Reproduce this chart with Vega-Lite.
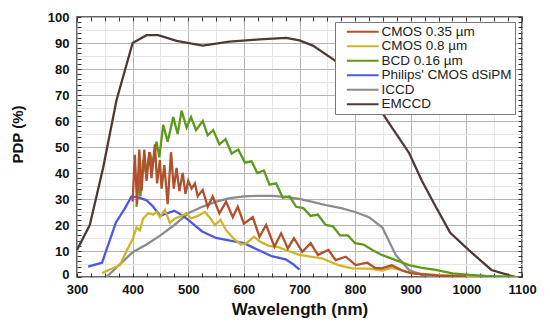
{
  "$schema": "https://vega.github.io/schema/vega-lite/v6.json",
  "width": 445,
  "height": 260,
  "autosize": {"type": "none"},
  "padding": {"left": 77, "top": 17, "right": 28, "bottom": 55},
  "background": "white",
  "config": {
    "font": "Liberation Sans",
    "view": {"stroke": "#333", "strokeWidth": 1.5},
    "axis": {"domain": false}
  },
  "datasets": {
    "pdp": [
      {"s":"EMCCD","wl":300,"v":10.4},{"s":"EMCCD","wl":323,"v":20},{"s":"EMCCD","wl":347,"v":42},{"s":"EMCCD","wl":371,"v":68},{"s":"EMCCD","wl":400,"v":90},{"s":"EMCCD","wl":425,"v":93},{"s":"EMCCD","wl":446,"v":93},{"s":"EMCCD","wl":479,"v":90.8},{"s":"EMCCD","wl":526,"v":89},{"s":"EMCCD","wl":574,"v":90.5},{"s":"EMCCD","wl":628,"v":91.4},{"s":"EMCCD","wl":676,"v":92},{"s":"EMCCD","wl":700,"v":91},{"s":"EMCCD","wl":724,"v":89},{"s":"EMCCD","wl":762,"v":83.5},{"s":"EMCCD","wl":800,"v":77},{"s":"EMCCD","wl":828,"v":70},{"s":"EMCCD","wl":860,"v":59.5},{"s":"EMCCD","wl":897,"v":47.7},{"s":"EMCCD","wl":920,"v":37},{"s":"EMCCD","wl":945,"v":27},{"s":"EMCCD","wl":971,"v":17},{"s":"EMCCD","wl":1004,"v":10.4},{"s":"EMCCD","wl":1045,"v":2.7},{"s":"EMCCD","wl":1088,"v":0},

      {"s":"ICCD","wl":353,"v":0},{"s":"ICCD","wl":375,"v":4.5},{"s":"ICCD","wl":400,"v":9.5},{"s":"ICCD","wl":425,"v":12.5},{"s":"ICCD","wl":450,"v":16},{"s":"ICCD","wl":475,"v":20},{"s":"ICCD","wl":500,"v":24.5},{"s":"ICCD","wl":525,"v":27},{"s":"ICCD","wl":550,"v":29},{"s":"ICCD","wl":575,"v":30.3},{"s":"ICCD","wl":600,"v":31},{"s":"ICCD","wl":625,"v":31.2},{"s":"ICCD","wl":650,"v":31.2},{"s":"ICCD","wl":675,"v":30.8},{"s":"ICCD","wl":700,"v":30},{"s":"ICCD","wl":725,"v":28.8},{"s":"ICCD","wl":750,"v":27.5},{"s":"ICCD","wl":775,"v":26.5},{"s":"ICCD","wl":800,"v":25},{"s":"ICCD","wl":825,"v":23},{"s":"ICCD","wl":849,"v":19},{"s":"ICCD","wl":873,"v":8.5},{"s":"ICCD","wl":897,"v":2.7},{"s":"ICCD","wl":920,"v":0.8},{"s":"ICCD","wl":950,"v":0.1},

      {"s":"Philips' CMOS dSiPM","wl":320,"v":4},{"s":"Philips' CMOS dSiPM","wl":345,"v":5.5},{"s":"Philips' CMOS dSiPM","wl":370,"v":21},{"s":"Philips' CMOS dSiPM","wl":385,"v":26},{"s":"Philips' CMOS dSiPM","wl":398,"v":31},{"s":"Philips' CMOS dSiPM","wl":412,"v":30.5},{"s":"Philips' CMOS dSiPM","wl":425,"v":29.5},{"s":"Philips' CMOS dSiPM","wl":437,"v":27},{"s":"Philips' CMOS dSiPM","wl":450,"v":23.5},{"s":"Philips' CMOS dSiPM","wl":462,"v":24.5},{"s":"Philips' CMOS dSiPM","wl":475,"v":25.5},{"s":"Philips' CMOS dSiPM","wl":487,"v":24},{"s":"Philips' CMOS dSiPM","wl":500,"v":22},{"s":"Philips' CMOS dSiPM","wl":525,"v":17.5},{"s":"Philips' CMOS dSiPM","wl":550,"v":15},{"s":"Philips' CMOS dSiPM","wl":575,"v":14},{"s":"Philips' CMOS dSiPM","wl":600,"v":13},{"s":"Philips' CMOS dSiPM","wl":625,"v":10.5},{"s":"Philips' CMOS dSiPM","wl":650,"v":8},{"s":"Philips' CMOS dSiPM","wl":675,"v":6.8},{"s":"Philips' CMOS dSiPM","wl":688,"v":5},{"s":"Philips' CMOS dSiPM","wl":700,"v":2.8},

      {"s":"CMOS 0.8 µm","wl":345,"v":1.5},{"s":"CMOS 0.8 µm","wl":360,"v":3},{"s":"CMOS 0.8 µm","wl":377,"v":4.5},{"s":"CMOS 0.8 µm","wl":389,"v":10},{"s":"CMOS 0.8 µm","wl":400,"v":14.5},{"s":"CMOS 0.8 µm","wl":407,"v":19},{"s":"CMOS 0.8 µm","wl":413,"v":18},{"s":"CMOS 0.8 µm","wl":419,"v":22.5},{"s":"CMOS 0.8 µm","wl":428,"v":24.5},{"s":"CMOS 0.8 µm","wl":437,"v":24},{"s":"CMOS 0.8 µm","wl":443,"v":25},{"s":"CMOS 0.8 µm","wl":449,"v":23},{"s":"CMOS 0.8 µm","wl":458,"v":25.8},{"s":"CMOS 0.8 µm","wl":467,"v":20.8},{"s":"CMOS 0.8 µm","wl":476,"v":22.5},{"s":"CMOS 0.8 µm","wl":488,"v":23.5},{"s":"CMOS 0.8 µm","wl":497,"v":24.5},{"s":"CMOS 0.8 µm","wl":505,"v":22.5},{"s":"CMOS 0.8 µm","wl":517,"v":23.5},{"s":"CMOS 0.8 µm","wl":530,"v":25},{"s":"CMOS 0.8 µm","wl":540,"v":22.5},{"s":"CMOS 0.8 µm","wl":548,"v":20},{"s":"CMOS 0.8 µm","wl":558,"v":22},{"s":"CMOS 0.8 µm","wl":568,"v":18},{"s":"CMOS 0.8 µm","wl":583,"v":14.5},{"s":"CMOS 0.8 µm","wl":595,"v":12.5},{"s":"CMOS 0.8 µm","wl":605,"v":13},{"s":"CMOS 0.8 µm","wl":618,"v":15.5},{"s":"CMOS 0.8 µm","wl":630,"v":13.5},{"s":"CMOS 0.8 µm","wl":645,"v":12},{"s":"CMOS 0.8 µm","wl":662,"v":11.5},{"s":"CMOS 0.8 µm","wl":680,"v":10},{"s":"CMOS 0.8 µm","wl":700,"v":8.5},{"s":"CMOS 0.8 µm","wl":720,"v":7.8},{"s":"CMOS 0.8 µm","wl":740,"v":7.2},{"s":"CMOS 0.8 µm","wl":770,"v":4.6},{"s":"CMOS 0.8 µm","wl":795,"v":3.3},{"s":"CMOS 0.8 µm","wl":825,"v":3.2},{"s":"CMOS 0.8 µm","wl":848,"v":2.5},{"s":"CMOS 0.8 µm","wl":866,"v":3.5},{"s":"CMOS 0.8 µm","wl":884,"v":2.5},{"s":"CMOS 0.8 µm","wl":900,"v":1.5},{"s":"CMOS 0.8 µm","wl":945,"v":0.8},{"s":"CMOS 0.8 µm","wl":1000,"v":0.3},{"s":"CMOS 0.8 µm","wl":1050,"v":0.1},{"s":"CMOS 0.8 µm","wl":1090,"v":0},

      {"s":"BCD 0.16 µm","wl":407,"v":27},{"s":"BCD 0.16 µm","wl":410,"v":40},{"s":"BCD 0.16 µm","wl":414,"v":31},{"s":"BCD 0.16 µm","wl":419,"v":45},{"s":"BCD 0.16 µm","wl":424,"v":40},{"s":"BCD 0.16 µm","wl":431,"v":48},{"s":"BCD 0.16 µm","wl":436,"v":43},{"s":"BCD 0.16 µm","wl":443,"v":52},{"s":"BCD 0.16 µm","wl":448,"v":46},{"s":"BCD 0.16 µm","wl":455,"v":58.5},{"s":"BCD 0.16 µm","wl":463,"v":52},{"s":"BCD 0.16 µm","wl":473,"v":61.5},{"s":"BCD 0.16 µm","wl":481,"v":55},{"s":"BCD 0.16 µm","wl":488,"v":64},{"s":"BCD 0.16 µm","wl":497,"v":57.5},{"s":"BCD 0.16 µm","wl":505,"v":61.5},{"s":"BCD 0.16 µm","wl":514,"v":56.5},{"s":"BCD 0.16 µm","wl":526,"v":60},{"s":"BCD 0.16 µm","wl":535,"v":54.5},{"s":"BCD 0.16 µm","wl":545,"v":56.5},{"s":"BCD 0.16 µm","wl":556,"v":51},{"s":"BCD 0.16 µm","wl":567,"v":53},{"s":"BCD 0.16 µm","wl":578,"v":47.5},{"s":"BCD 0.16 µm","wl":590,"v":49},{"s":"BCD 0.16 µm","wl":602,"v":44},{"s":"BCD 0.16 µm","wl":614,"v":44.5},{"s":"BCD 0.16 µm","wl":624,"v":40},{"s":"BCD 0.16 µm","wl":636,"v":41},{"s":"BCD 0.16 µm","wl":646,"v":35.5},{"s":"BCD 0.16 µm","wl":658,"v":36},{"s":"BCD 0.16 µm","wl":670,"v":30.5},{"s":"BCD 0.16 µm","wl":682,"v":31},{"s":"BCD 0.16 µm","wl":694,"v":27},{"s":"BCD 0.16 µm","wl":707,"v":26.5},{"s":"BCD 0.16 µm","wl":720,"v":23.5},{"s":"BCD 0.16 µm","wl":733,"v":24},{"s":"BCD 0.16 µm","wl":747,"v":20},{"s":"BCD 0.16 µm","wl":760,"v":19.5},{"s":"BCD 0.16 µm","wl":773,"v":16},{"s":"BCD 0.16 µm","wl":787,"v":16},{"s":"BCD 0.16 µm","wl":800,"v":13},{"s":"BCD 0.16 µm","wl":815,"v":12.5},{"s":"BCD 0.16 µm","wl":831,"v":10.4},{"s":"BCD 0.16 µm","wl":848,"v":8.5},{"s":"BCD 0.16 µm","wl":873,"v":6.5},{"s":"BCD 0.16 µm","wl":897,"v":4.6},{"s":"BCD 0.16 µm","wl":920,"v":3.5},{"s":"BCD 0.16 µm","wl":945,"v":2.7},{"s":"BCD 0.16 µm","wl":975,"v":1.4},{"s":"BCD 0.16 µm","wl":1005,"v":0.8},{"s":"BCD 0.16 µm","wl":1035,"v":0.4},{"s":"BCD 0.16 µm","wl":1088,"v":0},

      {"s":"CMOS 0.35 µm","wl":400,"v":29},{"s":"CMOS 0.35 µm","wl":404,"v":47},{"s":"CMOS 0.35 µm","wl":408,"v":28},{"s":"CMOS 0.35 µm","wl":412,"v":49},{"s":"CMOS 0.35 µm","wl":416,"v":33},{"s":"CMOS 0.35 µm","wl":421,"v":49},{"s":"CMOS 0.35 µm","wl":425,"v":37},{"s":"CMOS 0.35 µm","wl":430,"v":48},{"s":"CMOS 0.35 µm","wl":434,"v":38},{"s":"CMOS 0.35 µm","wl":440,"v":51},{"s":"CMOS 0.35 µm","wl":444,"v":36},{"s":"CMOS 0.35 µm","wl":449,"v":45},{"s":"CMOS 0.35 µm","wl":452,"v":34},{"s":"CMOS 0.35 µm","wl":457,"v":43},{"s":"CMOS 0.35 µm","wl":463,"v":28},{"s":"CMOS 0.35 µm","wl":469,"v":48},{"s":"CMOS 0.35 µm","wl":474,"v":34},{"s":"CMOS 0.35 µm","wl":479,"v":42},{"s":"CMOS 0.35 µm","wl":484,"v":33},{"s":"CMOS 0.35 µm","wl":490,"v":40},{"s":"CMOS 0.35 µm","wl":495,"v":32},{"s":"CMOS 0.35 µm","wl":500,"v":37},{"s":"CMOS 0.35 µm","wl":506,"v":34},{"s":"CMOS 0.35 µm","wl":512,"v":36},{"s":"CMOS 0.35 µm","wl":517,"v":31},{"s":"CMOS 0.35 µm","wl":526,"v":33.5},{"s":"CMOS 0.35 µm","wl":535,"v":27},{"s":"CMOS 0.35 µm","wl":544,"v":31},{"s":"CMOS 0.35 µm","wl":556,"v":24.5},{"s":"CMOS 0.35 µm","wl":568,"v":29},{"s":"CMOS 0.35 µm","wl":580,"v":23},{"s":"CMOS 0.35 µm","wl":589,"v":27},{"s":"CMOS 0.35 µm","wl":600,"v":20.5},{"s":"CMOS 0.35 µm","wl":616,"v":23},{"s":"CMOS 0.35 µm","wl":628,"v":15.5},{"s":"CMOS 0.35 µm","wl":640,"v":20},{"s":"CMOS 0.35 µm","wl":655,"v":11.7},{"s":"CMOS 0.35 µm","wl":667,"v":16.8},{"s":"CMOS 0.35 µm","wl":679,"v":11},{"s":"CMOS 0.35 µm","wl":690,"v":14.9},{"s":"CMOS 0.35 µm","wl":705,"v":9.7},{"s":"CMOS 0.35 µm","wl":720,"v":13},{"s":"CMOS 0.35 µm","wl":733,"v":8.5},{"s":"CMOS 0.35 µm","wl":752,"v":10.4},{"s":"CMOS 0.35 µm","wl":765,"v":6.5},{"s":"CMOS 0.35 µm","wl":783,"v":7.8},{"s":"CMOS 0.35 µm","wl":801,"v":4.6},{"s":"CMOS 0.35 µm","wl":822,"v":5.5},{"s":"CMOS 0.35 µm","wl":836,"v":3.5},{"s":"CMOS 0.35 µm","wl":848,"v":3.3},{"s":"CMOS 0.35 µm","wl":866,"v":4.5},{"s":"CMOS 0.35 µm","wl":885,"v":2.5},{"s":"CMOS 0.35 µm","wl":900,"v":1.5},{"s":"CMOS 0.35 µm","wl":950,"v":0.5},{"s":"CMOS 0.35 µm","wl":1000,"v":0.1}
    ]
  },
  "data": {"name": "pdp"},
  "layer": [
    {
      "mark": {"type": "line", "strokeWidth": 2.3, "clip": true},
      "encoding": {
        "x": {
          "field": "wl", "type": "quantitative",
          "scale": {"domain": [300, 1100], "nice": false},
          "axis": {
            "title": "Wavelength (nm)",
            "titleFontSize": 17, "titleFontWeight": "bold", "titleColor": "#111", "titlePadding": 5,
            "values": [300,325,350,375,400,425,450,475,500,525,550,575,600,625,650,675,700,725,750,775,800,825,850,875,900,925,950,975,1000,1025,1050,1075,1100],
            "format": "d",
            "labelExpr": "datum.value % 100 === 0 ? datum.label : ''",
            "labelFontSize": 13, "labelFontWeight": "bold", "labelColor": "#111", "labelPadding": 10,
            "labelFlush": false, "labelOverlap": false,
            "tickSize": -4, "tickColor": "#333",
            "grid": true,
            "gridColor": {"condition": {"test": "datum.value % 100 === 0", "value": "#b4b4b4"}, "value": "#e4e4e4"},
            "gridOpacity": {"condition": {"test": "datum.value % 50 === 0", "value": 1}, "value": 0.001}
          }
        },
        "y": {
          "field": "v", "type": "quantitative",
          "scale": {"domain": [0, 100], "nice": false},
          "axis": {
            "title": "PDP (%)",
            "titleFontSize": 15, "titleFontWeight": "bold", "titleColor": "#111", "titlePadding": 22, "titleY": 117,
            "values": [0,1,2,3,4,5,6,7,8,9,10,11,12,13,14,15,16,17,18,19,20,21,22,23,24,25,26,27,28,29,30,31,32,33,34,35,36,37,38,39,40,41,42,43,44,45,46,47,48,49,50,51,52,53,54,55,56,57,58,59,60,61,62,63,64,65,66,67,68,69,70,71,72,73,74,75,76,77,78,79,80,81,82,83,84,85,86,87,88,89,90,91,92,93,94,95,96,97,98,99,100],
            "labelExpr": "datum.value % 10 === 0 ? datum.label : ''",
            "labelFontSize": 13, "labelFontWeight": "bold", "labelColor": "#111", "labelPadding": 12,
            "labelOffset": {"condition": {"test": "datum.value === 0", "value": -3}, "value": 0.001},
            "labelFlush": false, "labelOverlap": false,
            "tickSize": -4, "tickColor": "#333",
            "tickOpacity": {"condition": {"test": "datum.value % 2 === 0", "value": 1}, "value": 0.001},
            "grid": true,
            "gridColor": {"condition": {"test": "datum.value % 10 === 0", "value": "#b4b4b4"}, "value": "#e4e4e4"},
            "gridOpacity": {"condition": {"test": "datum.value % 5 === 0", "value": 1}, "value": 0.001}
          }
        },
        "color": {
          "field": "s", "type": "nominal",
          "scale": {
            "domain": ["CMOS 0.35 µm", "CMOS 0.8 µm", "BCD 0.16 µm", "Philips' CMOS dSiPM", "ICCD", "EMCCD"],
            "range": ["#b0502c", "#cdb52a", "#5c9a1a", "#4e57e6", "#8c8c8c", "#4e3a35"]
          },
          "legend": {
            "title": null,
            "orient": "none", "legendX": 258, "legendY": 5,
            "symbolType": "M0.7,0H11.3", "symbolSize": 36, "symbolStrokeWidth": 2,
            "labelFontSize": 13.5, "labelColor": "#222", "labelOffset": 30,
            "rowPadding": -0.5, "padding": 3,
            "fillColor": "white", "strokeColor": "#777"
          }
        }
      }
    },
    {
      "mark": {"type": "line", "opacity": 0},
      "encoding": {
        "x": {
          "field": "wl", "type": "quantitative",
          "scale": {"domain": [300, 1100], "nice": false},
          "axis": {
            "orient": "top", "title": null, "labels": false, "grid": false,
            "values": [300,325,350,375,400,425,450,475,500,525,550,575,600,625,650,675,700,725,750,775,800,825,850,875,900,925,950,975,1000,1025,1050,1075,1100],
            "tickSize": -4, "tickColor": "#333"
          }
        },
        "y": {
          "field": "v", "type": "quantitative",
          "scale": {"domain": [0, 100], "nice": false},
          "axis": {
            "orient": "right", "title": null, "labels": false, "grid": false,
            "values": [0,2,4,6,8,10,12,14,16,18,20,22,24,26,28,30,32,34,36,38,40,42,44,46,48,50,52,54,56,58,60,62,64,66,68,70,72,74,76,78,80,82,84,86,88,90,92,94,96,98,100],
            "tickSize": -4, "tickColor": "#333"
          }
        }
      }
    }
  ],
  "resolve": {"axis": {"x": "independent", "y": "independent"}}
}
